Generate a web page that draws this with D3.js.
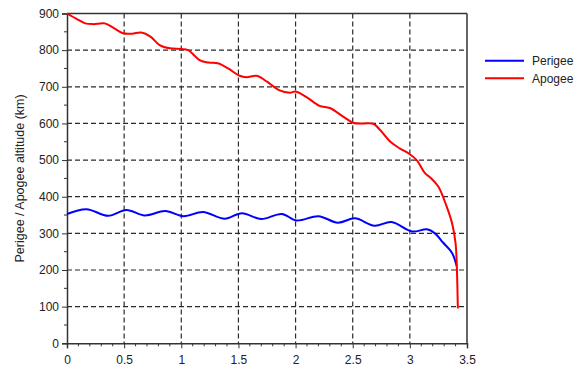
<!DOCTYPE html>
<html>
<head>
<meta charset="utf-8">
<script src="https://cdn.jsdelivr.net/npm/d3@7"></script>
<style>
  html, body { margin: 0; padding: 0; background: #fff; }
  svg { display: block; font-family: "Liberation Sans", Arial, sans-serif; }
</style>
</head>
<body>
<div id="chart"></div>
<script>
const width = 578;
const height = 366;

// time axis values
const apogeeX = [0, 0.08, 0.16, 0.23, 0.33, 0.41, 0.49, 0.57, 0.65, 0.73, 0.81, 0.90, 1.00, 1.06,
  1.16, 1.24, 1.32, 1.41, 1.51, 1.57, 1.66, 1.75, 1.86, 1.95, 2.00, 2.10, 2.21, 2.30, 2.42, 2.51,
  2.60, 2.68, 2.74, 2.83, 2.91, 2.99, 3.06, 3.13, 3.18, 3.25, 3.32, 3.37, 3.40, 3.41, 3.415, 3.42];
const apogeeY = [900, 886, 873, 871, 873, 860, 846, 845, 848, 837, 814, 805, 803, 800,
  773, 766, 764, 750, 730, 726, 730, 714, 690, 684, 687, 671, 648, 642, 618, 601,
  600, 599, 582, 550, 532, 518, 500, 465, 452, 427, 375, 327, 273, 219, 165, 95];

const perigeeX = [0, 0.17, 0.36, 0.52, 0.68, 0.86, 1.02, 1.19, 1.38, 1.53, 1.70, 1.88, 2.01,
  2.20, 2.37, 2.52, 2.69, 2.84, 3.02, 3.15, 3.22, 3.29, 3.37, 3.41];
const perigeeY = [353, 366, 348, 364, 349, 361, 347, 358, 340, 355, 339, 353, 335,
  347, 329, 341, 321, 331, 305, 311, 300, 275, 246, 210];

const xTicks = [0, 0.5, 1, 1.5, 2, 2.5, 3, 3.5];
const yTicks = [0, 100, 200, 300, 400, 500, 600, 700, 800, 900];
const seriesNames = ["Perigee", "Apogee"];
const seriesColors = ["#0000ff", "#ff0000"];

const plotLeft = 67, plotRight = 467, plotTop = 13.5, plotBottom = 343.3;

const x = d3.scaleLinear().domain([0, 3.5]).range([plotLeft, plotRight]);
const y = d3.scaleLinear().domain([0, 900]).range([plotBottom, plotTop]);

const svg = d3.select('#chart')
  .append('svg')
  .attr('width', width)
  .attr('height', height);

// dashed grid
svg.append('g')
  .selectAll('line')
  .data(xTicks.slice(1, -1))
  .enter().append('line')
  .attr('x1', d => x(d)).attr('x2', d => x(d))
  .attr('y1', plotTop).attr('y2', plotBottom)
  .attr('stroke', '#2a2a2a').attr('stroke-width', 1.2)
  .attr('stroke-dasharray', '5,3');

svg.append('g')
  .selectAll('line')
  .data(yTicks.slice(1, -1))
  .enter().append('line')
  .attr('x1', plotLeft).attr('x2', plotRight)
  .attr('y1', d => y(d)).attr('y2', d => y(d))
  .attr('stroke', '#2a2a2a').attr('stroke-width', 1.2)
  .attr('stroke-dasharray', '5,3');

// minor ticks
const xMinor = d3.range(0, 36).map(i => i / 10).filter(v => Math.round(v * 10) % 5 !== 0);
const yMinor = d3.range(50, 900, 100);

svg.append('g')
  .selectAll('line')
  .data(xMinor)
  .enter().append('line')
  .attr('x1', d => x(d)).attr('x2', d => x(d))
  .attr('y1', plotBottom).attr('y2', plotBottom + 3)
  .attr('stroke', '#333');

svg.append('g')
  .selectAll('line')
  .data(yMinor)
  .enter().append('line')
  .attr('x1', plotLeft - 3).attr('x2', plotLeft)
  .attr('y1', d => y(d)).attr('y2', d => y(d))
  .attr('stroke', '#333');

// axes
const xAxis = svg.append('g')
  .attr('transform', 'translate(0,' + plotBottom + ')')
  .call(d3.axisBottom(x).tickValues(xTicks).tickSize(5).tickPadding(7)
    .tickFormat(d => d3.format('')(d)));
xAxis.select('.domain').attr('stroke', '#333').attr('stroke-width', 1.5);
xAxis.selectAll('.tick line').attr('stroke', '#333');
xAxis.selectAll('text').attr('font-size', 12).attr('fill', '#222')
  .attr('font-family', '"Liberation Sans", Arial, sans-serif');

const yAxis = svg.append('g')
  .attr('transform', 'translate(' + plotLeft + ',0)')
  .call(d3.axisLeft(y).tickValues(yTicks).tickSize(5).tickPadding(3));
yAxis.select('.domain').attr('stroke', '#333').attr('stroke-width', 1.5);
yAxis.selectAll('.tick line').attr('stroke', '#333');
yAxis.selectAll('text').attr('font-size', 12).attr('fill', '#222')
  .attr('font-family', '"Liberation Sans", Arial, sans-serif');

// top and right border
svg.append('line')
  .attr('x1', plotLeft).attr('x2', plotRight).attr('y1', plotTop).attr('y2', plotTop)
  .attr('stroke', '#333').attr('stroke-width', 1.5);
svg.append('line')
  .attr('x1', plotRight).attr('x2', plotRight).attr('y1', plotTop).attr('y2', plotBottom)
  .attr('stroke', '#333').attr('stroke-width', 1.5);

// curves
const line = d3.line()
  .x(d => x(d[0]))
  .y(d => y(d[1]))
  .curve(d3.curveCatmullRom.alpha(0.5));

const series = [
  d3.zip(perigeeX, perigeeY),
  d3.zip(apogeeX, apogeeY)
];

svg.append('g')
  .selectAll('path')
  .data(series)
  .enter().append('path')
  .attr('d', line)
  .attr('fill', 'none')
  .attr('stroke', (d, i) => seriesColors[i])
  .attr('stroke-width', 2);

// y label
svg.append('text')
  .attr('transform', 'translate(24,' + ((plotTop + plotBottom) / 2) + ') rotate(-90)')
  .attr('text-anchor', 'middle')
  .attr('font-size', 12.5)
  .attr('fill', '#222')
  .text('Perigee / Apogee altitude (km)');

// legend
const legend = svg.append('g')
  .selectAll('g')
  .data(seriesNames)
  .enter().append('g')
  .attr('transform', (d, i) => 'translate(485,' + (60.7 + i * 17.6) + ')');

legend.append('line')
  .attr('x1', 0).attr('x2', 39)
  .attr('stroke', (d, i) => seriesColors[i])
  .attr('stroke-width', 2);

legend.append('text')
  .attr('x', 47)
  .attr('dy', '0.35em')
  .attr('font-size', 12)
  .attr('fill', '#222')
  .text(d => d);
</script>
</body>
</html>
